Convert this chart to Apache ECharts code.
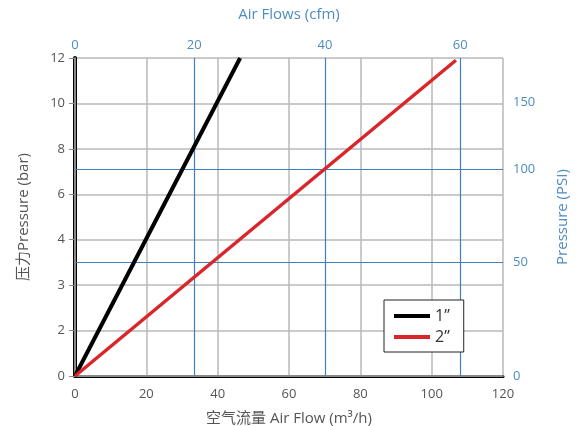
<!DOCTYPE html>
<html><head><meta charset="utf-8">
<script src="https://cdn.jsdelivr.net/npm/echarts@6/dist/echarts.min.js"></script>
<style>html,body{margin:0;padding:0;background:#fff}#c{width:582px;height:426px}</style>
</head><body><div id="c"></div>
<script>
// Left axis tick labels (bar) — equally spaced in the original
const barLabels = [0, 2, 3, 4, 6, 8, 10, 12];
// Bottom axis (m3/h)
const flowMin = 0, flowMax = 120, flowStep = 20;
// Top axis: cfm labels and where they sit on the m3/h scale
const cfmLabels = [0, 20, 40, 60];
const cfmAtFlow = [0, 33.4, 70.1, 108];
// Right axis: PSI labels and where they sit on the bar-label index scale
const psiLabels = [0, 50, 100, 150];
const psiAtIndex = [0, 2.51, 4.56, 6.03];
// Series (flow m3/h, pressure bar)
const seriesNames = ['1\u201d', '2\u201d'];
const flow1 = [0, 46.3];
const bar1 = [0, 12];
const flow2 = [0, 106.8];
const bar2 = [0, 11.9];

function barToIdx(v) {
  for (let i = 0; i < barLabels.length - 1; i++) {
    if (v <= barLabels[i + 1]) {
      return i + (v - barLabels[i]) / (barLabels[i + 1] - barLabels[i]);
    }
  }
  return barLabels.length - 1;
}
const mk = (xs, ys) => xs.map((x, i) => [x, barToIdx(ys[i])]);

const blue = '#3f7fbf', blueText = '#4f8cc0', grey = '#b8b8b8', txt = '#555';
const font = '"Open Sans", "Noto Sans CJK SC", sans-serif';

const chart = echarts.init(document.getElementById('c'), null, {renderer: 'canvas'});
chart.setOption({
  animation: false,
  textStyle: {fontFamily: font},
  grid: {left: 75, right: 79, top: 58, bottom: 50, containLabel: false, outerBoundsMode: 'none'},
  legend: {
    data: seriesNames, orient: 'vertical', left: 384, top: 300, width: 96,
    padding: [8, 14, 7, 10], itemGap: 5,
    backgroundColor: '#fff', borderColor: '#222', borderWidth: 1,
    icon: 'rect', itemWidth: 36, itemHeight: 4,
    textStyle: {fontSize: 16, color: '#333', fontFamily: font}
  },
  xAxis: [{
    type: 'value', position: 'bottom', min: flowMin, max: flowMax, interval: flowStep,
    name: '空气流量 Air Flow (m³/h)', nameLocation: 'middle', nameGap: 35,
    nameTextStyle: {fontSize: 15, color: txt},
    axisLine: {show: true, lineStyle: {color: '#000', width: 3}},
    axisTick: {show: false},
    axisLabel: {color: txt, fontSize: 13, margin: 12},
    splitLine: {show: true, lineStyle: {color: grey, width: 1.5}}
  }, {
    type: 'value', position: 'top', min: flowMin, max: flowMax,
    name: 'Air Flows (cfm)', nameLocation: 'middle', nameGap: 36,
    nameTextStyle: {fontSize: 15, color: blueText},
    axisLine: {show: true, lineStyle: {color: grey, width: 1.5}},
    axisTick: {show: true, customValues: cfmAtFlow.slice(1), length: 4, lineStyle: {color: blue}},
    axisLabel: {color: blueText, fontSize: 13, margin: 6, customValues: cfmAtFlow,
      formatter: v => { const i = cfmAtFlow.findIndex(c => Math.abs(c - v) < 1e-6); return i >= 0 ? String(cfmLabels[i]) : ''; }},
    splitLine: {show: false}
  }],
  yAxis: [{
    type: 'value', position: 'left', min: 0, max: barLabels.length - 1, interval: 1,
    name: '压力Pressure (bar)', nameLocation: 'middle', nameGap: 44,
    nameTextStyle: {fontSize: 15, color: txt},
    axisLine: {show: true, lineStyle: {color: '#000', width: 4}},
    axisTick: {show: true, length: 6, lineStyle: {color: '#888'}},
    axisLabel: {color: txt, fontSize: 13, margin: 10, formatter: v => String(barLabels[Math.round(v)])},
    splitLine: {show: true, lineStyle: {color: grey, width: 1.5}}
  }, {
    type: 'value', position: 'right', min: 0, max: barLabels.length - 1,
    name: 'Pressure (PSI)', nameLocation: 'middle', nameGap: 52,
    nameTextStyle: {fontSize: 15, color: blueText},
    axisLine: {show: true, lineStyle: {color: grey, width: 1.5}},
    axisTick: {show: true, customValues: psiAtIndex.slice(1, 3), length: 7, lineStyle: {color: blue}},
    axisLabel: {color: blueText, fontSize: 13, margin: 10, customValues: psiAtIndex,
      formatter: v => { const i = psiAtIndex.findIndex(c => Math.abs(c - v) < 1e-6); return i >= 0 ? String(psiLabels[i]) : ''; }},
    splitLine: {show: false}
  }],
  series: [{
    name: seriesNames[0], type: 'line', xAxisIndex: 0, yAxisIndex: 0,
    data: mk(flow1, bar1), showSymbol: false, z: 5,
    lineStyle: {color: '#000', width: 4}, itemStyle: {color: '#000'},
    markLine: {
      silent: true, symbol: 'none', label: {show: false}, z: 1,
      lineStyle: {color: blue, width: 1.2, type: 'solid'},
      data: cfmAtFlow.slice(1).map(v => ({xAxis: v})).concat(psiAtIndex.slice(1, 3).map(v => ({yAxis: v})))
    }
  }, {
    name: seriesNames[1], type: 'line', xAxisIndex: 0, yAxisIndex: 0,
    data: mk(flow2, bar2), showSymbol: false, z: 5,
    lineStyle: {color: '#d9262a', width: 3.5}, itemStyle: {color: '#d9262a'}
  }]
});
</script></body></html>
